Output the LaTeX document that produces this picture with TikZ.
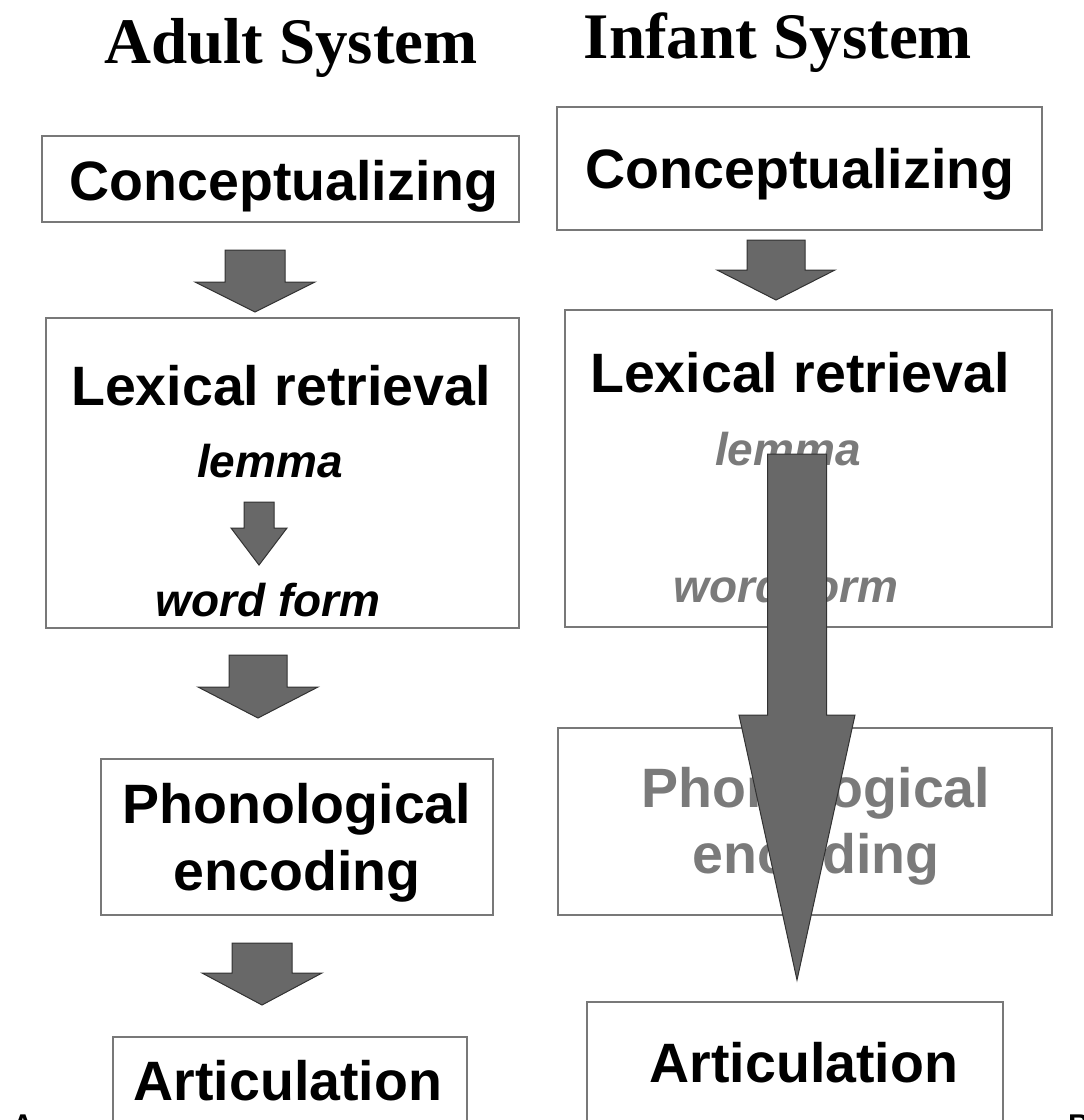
\documentclass[tikz,border=0pt]{standalone}
\usepackage{fontspec}
\setmainfont{Liberation Serif}
\newfontfamily\lsfont{Liberation Sans}
\usetikzlibrary{calc}
\definecolor{lpframe}{RGB}{120,120,120}
\definecolor{lpfill}{RGB}{104,104,104}
\definecolor{lpedge}{RGB}{50,50,50}
\definecolor{lpfaint}{RGB}{122,122,122}
\tikzset{
  lpbox/.style={draw=lpframe, line width=1.8pt, fill=white, inner sep=0pt},
  lptitle/.style={font=\fontsize{65}{70}\selectfont\bfseries, anchor=base, inner sep=0pt},
  lplab/.style={font=\lsfont\fontsize{55.5}{60}\selectfont\bfseries, anchor=base, inner sep=0pt},
  lpsub/.style={font=\lsfont\fontsize{46}{50}\selectfont\bfseries\itshape, anchor=base, inner sep=0pt},
  lpcorner/.style={font=\lsfont\fontsize{30}{34}\selectfont\bfseries, anchor=north west, inner sep=0pt},
  lpfat/.style n args={3}{fill=lpfill, draw=lpedge, line width=1pt, line join=miter,
    to path={let \p1=(\tikztostart), \p2=(\tikztotarget) in
      (\x1-#1pt,\y1) -- (\x1-#1pt,\y2+#3pt) -- (\x1-#2pt,\y2+#3pt) -- (\x2,\y2)
      -- (\x1+#2pt,\y2+#3pt) -- (\x1+#1pt,\y2+#3pt) -- (\x1+#1pt,\y1) -- cycle}}
}
\begin{document}
\begin{tikzpicture}[x=1pt, y=-1pt]
  \useasboundingbox (0,0) rectangle (1084,1120);
  \clip (0,0) rectangle (1084,1120);

  % headings
  \node[lptitle] (adulthead) at (291,63) {Adult System};
  \node[lptitle] (infanthead) at (778,58) {Infant System};

  % adult system
  \node[lpbox, minimum width=477, minimum height=86] (a1) at (280.5,179) {};
  \node[lplab] (a1t) at (284,200) {Conceptualizing};
  \node[lpbox, minimum width=473, minimum height=310] (a2) at (282.5,473) {};
  \node[lplab] (a2t) at (281,405) {Lexical retrieval};
  \node[lpsub] (a2l) at (270,477) {lemma};
  \node[lpsub] (a2w) at (268,616) {word form};
  \node[lpbox, minimum width=392, minimum height=156] (a3) at (297,837) {};
  \node[lplab] (a3t) at (297,823) {Phonological};
  \node[lplab] (a3b) at (297,890) {encoding};
  \node[lpbox, minimum width=354, minimum height=113] (a4) at (290,1093.5) {};
  \node[lplab] (a4t) at (288,1100) {Articulation};

  \coordinate (a12s) at (255,250);  \coordinate (a12e) at (255,312);
  \coordinate (a2ls) at (259,502);  \coordinate (a2le) at (259,565);
  \coordinate (a23s) at (258,655);  \coordinate (a23e) at (258,718);
  \coordinate (a34s) at (262,943);  \coordinate (a34e) at (262,1005);
  \draw[lpfat={30}{60}{30}] (a12s) to (a12e);
  \draw[lpfat={15}{28}{37}] (a2ls) to (a2le);
  \draw[lpfat={29}{60}{31}] (a23s) to (a23e);
  \draw[lpfat={30}{60}{32}] (a34s) to (a34e);

  % infant system
  \node[lpbox, minimum width=485, minimum height=123] (i1) at (799.5,168.5) {};
  \node[lplab] (i1t) at (800,188) {Conceptualizing};
  \node[lpbox, minimum width=487, minimum height=317] (i2) at (808.5,468.5) {};
  \node[lplab] (i2t) at (800,392) {Lexical retrieval};
  \node[lpsub, text=lpfaint] (i2l) at (788,465) {lemma};
  \node[lpsub, text=lpfaint] (i2w) at (786,602) {word form};
  \node[lpbox, minimum width=494, minimum height=187] (i3) at (805,821.5) {};
  \node[lplab, text=lpfaint] (i3t) at (816,807) {Phonological};
  \node[lplab, text=lpfaint] (i3b) at (816,873) {encoding};
  \node[lpbox, minimum width=416, minimum height=148] (i4) at (795,1076) {};
  \node[lplab] (i4t) at (804,1082) {Articulation};

  \coordinate (i12s) at (776,240);  \coordinate (i12e) at (776,300);
  \coordinate (i24s) at (797,454);  \coordinate (i24e) at (797,980);
  \draw[lpfat={29}{59}{30}] (i12s) to (i12e);
  \draw[lpfat={29.5}{58}{265}] (i24s) to (i24e);

  % panel letters
  \node[lpcorner] (panela) at (12,1115) {A};
  \node[lpcorner] (panelb) at (1068,1115) {B};
\end{tikzpicture}
\end{document}
